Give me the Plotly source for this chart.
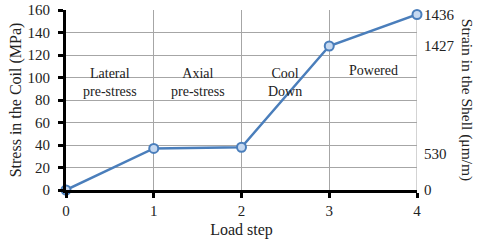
import plotly.graph_objects as go

load_steps = [0, 1, 2, 3, 4]
stress = [0, 37, 38, 128, 156]
strain_tick_pos = [0, 32, 128, 156]
strain_tick_text = ["0", "530", "1427", "1436"]
phase_labels = ["Lateral<br>pre-stress", "Axial<br>pre-stress", "Cool<br>Down", "Powered"]
phase_x = [0.5, 1.5, 2.5, 3.5]
phase_y = [96, 96, 96, 106]

font = "Liberation Serif, Times New Roman, serif"
fig = go.Figure()
fig.add_trace(go.Scatter(
    x=load_steps, y=stress, mode="lines+markers",
    line=dict(color="#4a7ebb", width=2.5),
    marker=dict(size=9, color="#c6d9f1", line=dict(color="#4a7ebb", width=2)),
    showlegend=False, cliponaxis=False,
))
fig.add_trace(go.Scatter(x=[0], y=[0], yaxis="y2", mode="markers",
                         marker=dict(opacity=0), showlegend=False, hoverinfo="skip"))

for t, x, y in zip(phase_labels, phase_x, phase_y):
    fig.add_annotation(x=x, y=y, text=t, showarrow=False,
                       font=dict(family=font, size=14, color="#222"))

fig.add_annotation(xref="paper", yref="paper", x=1.143, y=0.5, text="Strain in the Shell (μm/m)",
                   textangle=90, showarrow=False, xanchor="center", borderpad=0,
                   font=dict(family=font, size=15.5, color="#222"))

fig.update_layout(
    width=477, height=248,
    margin=dict(l=66, r=60, t=10, b=58, autoexpand=False),
    paper_bgcolor="white", plot_bgcolor="white",
    font=dict(family=font, size=15, color="#222"),
    xaxis=dict(range=[0, 4], tickvals=load_steps, showgrid=True, gridcolor="#a6a6a6", gridwidth=1,
               showline=True, linecolor="black", linewidth=3, ticks="outside", ticklen=5,
               tickwidth=3, tickcolor="black", zeroline=False, automargin=False,
               title=dict(text="Load step", font=dict(size=16), standoff=6)),
    yaxis=dict(range=[0, 160], dtick=20, showgrid=True, gridcolor="#a6a6a6", gridwidth=1,
               showline=True, linecolor="black", linewidth=3, ticks="outside", ticklen=5,
               tickwidth=3, tickcolor="black", zeroline=False, automargin=False,
               ticklabelstandoff=5,
               title=dict(text="Stress in the Coil (MPa)", font=dict(size=16), standoff=2)),
    yaxis2=dict(range=[0, 160], overlaying="y", side="right", tickvals=strain_tick_pos,
                ticktext=strain_tick_text, showgrid=False, showline=False, zeroline=False,
                ticks="", ticklabelstandoff=6, automargin=False),
)
fig.add_shape(type="line", xref="x", yref="y", x0=4, x1=4, y0=0, y1=160,
              line=dict(color="#a6a6a6", width=1), layer="below")
fig.write_html("out.html", config={"displayModeBar": False},
               post_script="document.body.style.margin='0';")
